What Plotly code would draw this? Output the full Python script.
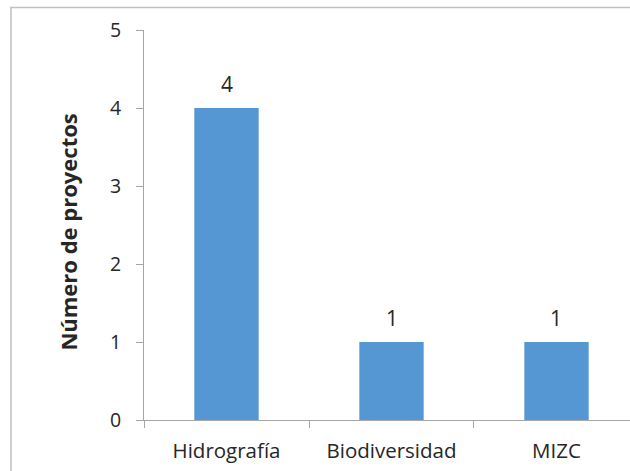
import plotly.graph_objects as go

categories = ["Hidrografía", "Biodiversidad", "MIZC"]
values = [4, 1, 1]
y_ticks = [0, 1, 2, 3, 4, 5]

FONT = "Open Sans"
TXT = "#262626"
BAR = "#5497D3"

fig = go.Figure()
fig.add_trace(go.Bar(
    x=categories, y=values, width=0.39,
    marker=dict(color=BAR, line=dict(width=0)),
    hoverinfo="skip",
))

for c, v in zip(categories, values):
    fig.add_annotation(x=c, y=v, text=str(v), showarrow=False,
                       yanchor="middle", yshift=24,
                       font=dict(family=FONT, size=21, color=TXT))

fig.add_annotation(xref="paper", yref="paper", x=-0.156, y=0.481,
                   text="<b>Número de proyectos</b>", textangle=-90,
                   showarrow=False, xanchor="center", yanchor="middle",
                   font=dict(family=FONT, size=22, color=TXT))

fig.add_shape(type="rect", xref="paper", yref="paper",
              x0=-0.2737, y0=-0.3, x1=1.1, y1=1.058,
              line=dict(color="#BFBFBF", width=1.5), layer="above")

fig.update_layout(
    width=630, height=471,
    margin=dict(l=144, r=0, t=30, b=51),
    paper_bgcolor="white", plot_bgcolor="white",
    showlegend=False,
    xaxis=dict(
        type="category", range=[-0.5, 2.4455],
        showline=True, linecolor="#A6A6A6", linewidth=1,
        ticks="outside", tickson="boundaries", ticklen=7, tickcolor="#A6A6A6",
        tickfont=dict(family=FONT, size=20.5, color=TXT),
        ticklabelstandoff=12,
        showgrid=False, zeroline=False,
    ),
    yaxis=dict(
        range=[0, 5], tickvals=y_ticks,
        showline=True, linecolor="#A6A6A6", linewidth=1,
        ticks="outside", ticklen=7, tickcolor="#A6A6A6",
        tickfont=dict(family=FONT, size=19.5, color=TXT),
        ticklabelstandoff=11,
        showgrid=False, zeroline=False,
    ),
)

fig.write_html("out.html", config={"displayModeBar": False},
               post_script="document.body.style.margin='0px';")
